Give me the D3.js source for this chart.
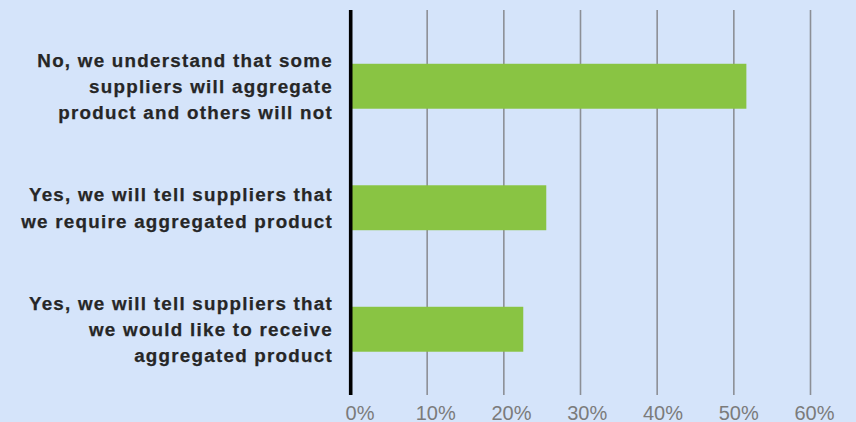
<!DOCTYPE html>
<html>
<head>
<meta charset="utf-8">
<script src="https://cdn.jsdelivr.net/npm/d3@7/dist/d3.min.js"></script>
<style>
  html, body { margin: 0; padding: 0; background: #d5e4fa; }
  svg { display: block; }
</style>
</head>
<body>
<svg id="chart" width="856" height="422"></svg>
<script>
// Survey answers, top to bottom, with their line breaks
const categories = [
  ["No, we understand that some", "suppliers will aggregate", "product and others will not"],
  ["Yes, we will tell suppliers that", "we require aggregated product"],
  ["Yes, we will tell suppliers that", "we would like to receive", "aggregated product"]
];
// Share of respondents (%)
const values = [51.7, 25.6, 22.6];
// Axis ticks (%)
const tickValues = [0, 10, 20, 30, 40, 50, 60];

const W = 856, H = 422;
const svg = d3.select("#chart");

svg.append("rect").attr("width", W).attr("height", H).attr("fill", "#d5e4fa");

const keys = categories.map((c, i) => "c" + i);

const x = d3.scaleLinear().domain([0, 60]).range([350, 810]);
const xLabel = d3.scaleLinear().domain([0, 60]).range([359.5, 814]);
const y = d3.scaleBand().domain(keys).range([25.5, 390])
  .paddingInner(0.63).paddingOuter(0.315);

const gridTop = 10, gridBottom = 395;

// vertical gridlines
const grid = svg.append("g")
  .attr("transform", `translate(0,${gridBottom})`)
  .call(d3.axisBottom(x).tickValues(tickValues.slice(1)).tickSize(-(gridBottom - gridTop)).tickFormat(""));
grid.select(".domain").remove();
grid.selectAll(".tick line").attr("stroke", "#8c8f96").attr("stroke-width", 1.6);

// bars
svg.append("g").selectAll("rect")
  .data(values)
  .join("rect")
  .attr("x", x(0))
  .attr("y", (d, i) => y(keys[i]))
  .attr("width", d => x(d) - x(0))
  .attr("height", y.bandwidth())
  .attr("fill", "#89c443");

// zero baseline
svg.append("line")
  .attr("x1", x(0) + 0.7).attr("x2", x(0) + 0.7)
  .attr("y1", gridTop).attr("y2", gridBottom)
  .attr("stroke", "#000").attr("stroke-width", 3.6);

// tick labels
const fs = 20;
const axisG = svg.append("g")
  .attr("transform", `translate(0,${419.5 - 3 - 0.71 * fs})`)
  .call(d3.axisBottom(xLabel).tickValues(tickValues).tickSize(0).tickPadding(3).tickFormat(d => d + "%"));
axisG.select(".domain").remove();
axisG.selectAll("text")
  .attr("font-family", "'Liberation Sans', Arial, sans-serif")
  .attr("font-size", fs)
  .attr("fill", "#7b7b7b");

// category labels
const lineH = 26.4, capH = 13.3;
const labels = svg.append("g")
  .attr("font-family", "'Liberation Sans', Arial, sans-serif")
  .attr("font-weight", "bold")
  .attr("font-size", 18.8)
  .attr("letter-spacing", "1.25px")
  .attr("fill", "#262626")
  .attr("stroke", "#262626")
  .attr("stroke-width", 0.25)
  .attr("text-anchor", "end");

labels.selectAll("text")
  .data(categories)
  .join("text")
  .each(function (lines, i) {
    const cy = y(keys[i]) + y.bandwidth() / 2;
    const first = cy + capH / 2 - (lines.length - 1) * lineH / 2;
    d3.select(this).selectAll("tspan")
      .data(lines)
      .join("tspan")
      .attr("x", 333)
      .attr("y", (d, j) => first + j * lineH)
      .text(d => d);
  });
</script>
</body>
</html>
